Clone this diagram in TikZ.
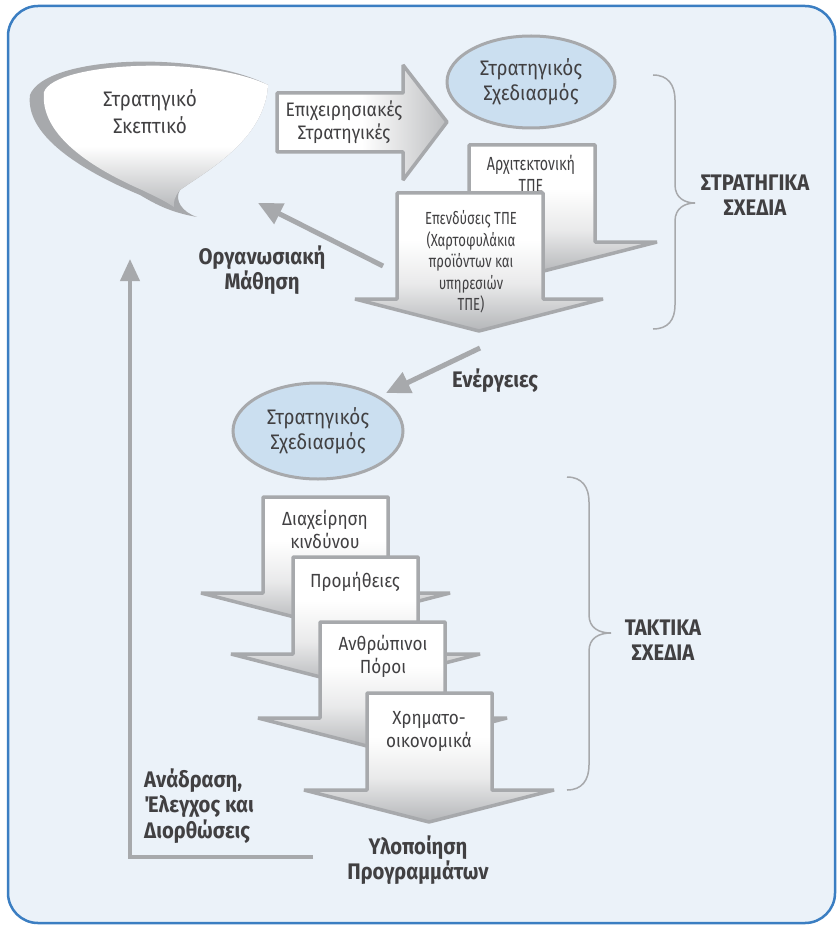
\documentclass[tikz,border=0pt]{standalone}
\usepackage{fontspec}
\setmainfont{Fira Sans}[FakeStretch=0.9]
\newfontfamily\condfont{Fira Sans}[FakeStretch=0.75]
\usetikzlibrary{arrows.meta,shapes.geometric}
\definecolor{bg}{HTML}{EBF2F9}
\definecolor{framec}{HTML}{3B7EC2}
\definecolor{agray}{HTML}{A7A9AC}
\definecolor{ellc}{HTML}{CBDFF0}
\definecolor{txtc}{HTML}{414042}
\pgfdeclareverticalshading{downshade}{100bp}{color(0bp)=(agray!85); color(25bp)=(agray!85); color(42bp)=(agray!25!white); color(58bp)=(white); color(100bp)=(white)}
\pgfdeclarehorizontalshading{rightshade}{100bp}{color(0bp)=(white); color(50bp)=(white); color(75bp)=(agray!75); color(100bp)=(agray!75)}
\pgfdeclareverticalshading{bubshade}{100bp}{color(0bp)=(agray!80); color(25bp)=(agray!80); color(45bp)=(white); color(100bp)=(white)}
\tikzset{
  lbl/.style={text=txtc, align=center, font=\fontsize{19}{23}\selectfont, inner sep=0pt},
  clbl/.style={text=txtc, align=center, font=\condfont\fontsize{19}{22}\selectfont, inner sep=0pt},
  blbl/.style={text=txtc, align=center, font=\fontsize{22.5}{25.5}\selectfont\bfseries, inner sep=0pt},
  bigarrow/.style={draw=agray, line width=3.5pt, line join=bevel, shade, shading=downshade},
  rarrow/.style={draw=agray, line width=3.5pt, line join=bevel, shade, shading=rightshade},
  garrow/.style={draw=agray, line width=5pt, -{Triangle[length=24pt,width=22pt]}},
  fbarrow/.style={draw=agray, line width=4pt, -{Triangle[length=22pt,width=19pt]}},
  brace/.style={draw=agray, line width=1.5pt},
  ellnode/.style={ellipse, draw=agray, line width=3pt, fill=ellc, text=txtc, align=center,
     font=\fontsize{21}{25}\selectfont, inner sep=0pt},
}
\begin{document}
\begin{tikzpicture}[x=1pt,y=-1pt]
\useasboundingbox (0,0) rectangle (837,925);
\draw[framec, line width=2.5pt, fill=bg, rounded corners=30pt] (8,6) rectangle (835,923);

% speech bubble
\fill[agray] (197,217) .. controls (168,212) and (152,202) .. (140,195)
  .. controls (80,170) and (25,135) .. (30,95)
  .. controls (45,55) and (200,50) .. (268,85)
  .. controls (265,140) and (205,172) .. (180,190)
  .. controls (174,200) and (182,212) .. (197,217) -- cycle;
\path[shade, shading=bubshade] (44,92) .. controls (55,62) and (205,55) .. (268,85)
  .. controls (265,140) and (205,172) .. (180,190)
  .. controls (175,196) and (173,202) .. (174,207)
  .. controls (162,199) and (152,195) .. (142,190)
  .. controls (85,165) and (40,132) .. (44,92) -- cycle;
\node[lbl, font=\fontsize{21}{27}\selectfont] (bub) at (150,112) {Στρατηγικό\\Σκεπτικό};

% right arrow
\path[rarrow] (277,93) -- (403,93) -- (403,65) -- (447,122) -- (403,180) -- (403,152) -- (277,152) -- cycle;
\node[lbl, font=\fontsize{19.5}{23}\selectfont] (bizstrat) at (344,122) {Επιχειρησιακές\\Στρατηγικές};

% strategic planning ellipse (top)
\node[ellnode, minimum width=168pt, minimum height=92pt] (ell1) at (531,82) {Στρατηγικός\\Σχεδιασμός};

% strategic down arrows
\path[bigarrow] (469,145) -- (595,145) -- (595,242) -- (657,242) -- (532,274) -- (407,242) -- (469,242) -- cycle;
\node[clbl] (arch) at (531,174) {Αρχιτεκτονική\\ΤΠΕ};
\path[bigarrow] (397,193) -- (543,193) -- (543,299) -- (603,299) -- (479,331) -- (355,299) -- (397,299) -- cycle;
\node[clbl, font=\condfont\fontsize{17.5}{21.5}\selectfont] (invest) at (471,262) {Επενδύσεις ΤΠΕ\\(Χαρτοφυλάκια\\προϊόντων και\\υπηρεσιών\\ΤΠΕ)};

% organisational learning
\coordinate (ol1) at (383,266);
\coordinate (ol2) at (258,203);
\draw[garrow] (ol1) -- (ol2);
\node[blbl] (learn) at (262,270) {Οργανωσιακή\\Μάθηση};

% strategic brace
\draw[brace] (653,75) .. controls (668,75) and (675,85) .. (675,100) -- (675,185)
  .. controls (675,198) and (685,203) .. (695,203)
  .. controls (685,203) and (675,208) .. (675,221) -- (675,305)
  .. controls (675,320) and (668,329) .. (653,329);
\node[blbl] (stratplans) at (755,195) {ΣΤΡΑΤΗΓΙΚΑ\\ΣΧΕΔΙΑ};

% actions
\coordinate (ac1) at (480,348);
\coordinate (ac2) at (386,393);
\draw[garrow] (ac1) -- (ac2);
\node[blbl] (actions) at (495,381) {Ενέργειες};

% strategic planning ellipse (lower)
\node[ellnode, minimum width=170pt, minimum height=96pt] (ell2) at (318,431) {Στρατηγικός\\Σχεδιασμός};

% tactical down arrows
\path[bigarrow] (263,497) -- (388,497) -- (388,593) -- (450,593) -- (325.5,625) -- (201,593) -- (263,593) -- cycle;
\node[lbl] (risk) at (325,529) {Διαχείρηση\\κινδύνου};
\path[bigarrow] (293,557) -- (418,557) -- (418,654) -- (480,654) -- (355.5,686) -- (231,654) -- (293,654) -- cycle;
\node[lbl] (procure) at (355,582) {Προμήθειες};
\path[bigarrow] (320,622) -- (445,622) -- (445,718) -- (507,718) -- (382.5,750) -- (258,718) -- (320,718) -- cycle;
\node[lbl] (hr) at (383,656) {Ανθρώπινοι\\Πόροι};
\path[bigarrow] (367,693) -- (492,693) -- (492,790) -- (554,790) -- (429,822) -- (304,790) -- (367,790) -- cycle;
\node[lbl] (fin) at (429,731) {Χρηματο-\\οικονομικά};

% tactical brace
\draw[brace] (567,477) .. controls (582,477) and (589,487) .. (589,502) -- (589,615)
  .. controls (589,628) and (599,633) .. (611,633)
  .. controls (599,633) and (589,638) .. (589,651) -- (589,765)
  .. controls (589,780) and (582,790) .. (567,790);
\node[blbl] (tactplans) at (663,640) {ΤΑΚΤΙΚΑ\\ΣΧΕΔΙΑ};

% implementation
\node[blbl] (impl) at (418,860) {Υλοποίηση\\Προγραμμάτων};

% feedback
\coordinate (fb1) at (313,857);
\coordinate (fb2) at (130,259);
\draw[fbarrow] (fb1) -| (fb2);
\node[blbl, align=left, anchor=west] (feedback) at (144,806) {Ανάδραση,\\Έλεγχος και\\Διορθώσεις};
\end{tikzpicture}
\end{document}
